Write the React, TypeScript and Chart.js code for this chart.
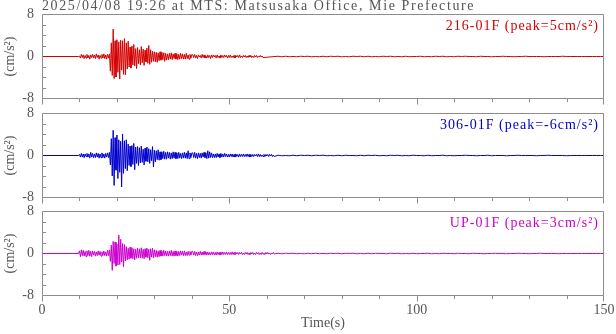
import React, { useEffect, useRef } from "react";
import { Chart, registerables } from "chart.js";

Chart.register(...registerables);

// ---------- text ----------
const TITLE = "2025/04/08 19:26 at MTS: Matsusaka Office, Mie Prefecture";
const CHANNELS = ["216-01F", "306-01F", "UP-01F"];
const PEAKS = ["5", "-6", "3"];
const Y_UNIT = "(cm/s²)";
const X_TITLE = "Time(s)";

// ---------- axes ----------
const X_MIN = 0;
const X_MAX = 150;
const X_LABEL_STEP = 50;
const X_MINOR_STEP = 10;
const Y_MIN = -8;
const Y_MAX = 8;
const Y_LABEL_STEP = 8;
const Y_MINOR = [-6, -4, -2, 2, 4, 6];

// ---------- sampling of the traces ----------
const ACTIVE_START = 10;
const ACTIVE_STEP = 0.25;
const CODA_START = 40.25;
const CODA_STEP = 0.25;
const TAIL_START = 63;
const TAIL_STEP = 1;

// 216-01F (red) : t = 10 .. 40 s every 0.25 s
const NS_ACTIVE = [
  0.1, -0.3, 0.4, -0.2, 0.3, -0.4, 0.2, -0.3,
  0.4, -0.3, 0.2, -0.5, 0.3, -0.2, 0.4, -0.3,
  0.3, -0.4, 0.5, -0.2, 0.3, -0.5, 0.2, -0.3,
  0.4, -0.3, 0.5, -0.4, 0.3, -0.5, 0.4, -0.3,
  0.5, -2.8, 2.6, -3.6, 5.2, -4.2, 3.0, -3.9,
  3.2, -3.0, 2.8, -4.3, 3.1, -2.6, 3.0, -3.4,
  3.4, -3.5, 2.6, -2.4, 2.9, -2.0, 1.8, -2.2,
  2.0, -1.6, 2.3, -1.8, 1.5, -2.3, 1.7, -1.4,
  1.3, -1.6, 1.9, -1.2, 1.4, -1.7, 1.2, -1.0,
  1.6, -1.3, 2.1, -1.5, 1.3, -1.1, 1.0, -0.9,
  0.9, -1.0, 0.8, -1.1, 0.7, -0.8, 0.9, -0.7,
  0.8, -0.6, 0.7, -0.9, 0.6, -0.7, 0.5, -0.6,
  0.6, -0.5, 0.7, -0.6, 0.5, -0.4, 0.6, -0.5,
  0.5, -0.6, 0.4, -0.5, 0.6, -0.4, 0.5, -0.5,
  0.4, -0.5, 0.6, -0.4, 0.3, -0.5, 0.4, -0.3,
  0.4,
];
// t = 40.25 .. 62 s every 0.25 s
const NS_CODA = [
  0.3, -0.2, 0.4, -0.3, 0.2, -0.4, 0.3, -0.1, 0.2, -0.3, 0.4, -0.2, 0.3, -0.3, 0.1, -0.3,
  0.3, -0.2, 0.2, -0.4, 0.3, -0.2, 0.3, -0.1, 0.2, -0.3, 0.3, -0.2, 0.1, -0.3, 0.3, -0.2,
  0.2, -0.2, 0.3, -0.1, 0.2, -0.3, 0.2, -0.2, 0.3, -0.2, 0.1, -0.2, 0.2, -0.3, 0.2, -0.1,
  0.2, -0.2, 0.3, -0.2, 0.1, -0.2, 0.2, -0.1, 0.2, -0.2, 0.1, -0.2, 0.2, -0.1, 0.2, -0.2,
  0.1, -0.2, 0.2, -0.1, 0.2, -0.2, 0.1, -0.1, 0.2, -0.1, 0.1, -0.2,
];
// t = 63 .. 150 s every 1 s
const NS_TAIL = [
  0.05, -0.05, 0.05, -0.05, 0, -0.05, 0.05, 0, 0.05, -0.05,
  0, -0.05, 0.05, -0.05, 0.05, 0, 0.05, -0.05, 0, -0.05,
  0.05, 0, 0.05, -0.05, 0.05, -0.05, 0, -0.05, 0.05, 0,
  0.05, -0.05, 0, -0.05, 0.05, -0.05, 0, 0, 0.05, -0.05,
  0, -0.05, 0.05, 0, 0.05, -0.05, 0, -0.05, 0.05, 0,
  0.05, 0, 0, -0.05, 0.05, 0, 0, -0.05, 0, 0,
  0.05, 0, 0, -0.05, 0, 0, 0.05, 0, 0, 0,
  0, -0.05, 0, 0, 0, 0, 0.05, 0, 0, 0,
  0, 0, 0, 0, 0, 0, 0, 0,
];

// 306-01F (blue)
const EW_ACTIVE = [
  0.2, -0.3, 0.4, -0.3, 0.3, -0.4, 0.3, -0.2,
  0.4, -0.3, 0.3, -0.5, 0.6, -0.3, 0.4, -0.4,
  0.3, -0.4, 0.5, -0.3, 0.4, -0.5, 0.3, -0.4,
  0.5, -0.4, 0.3, -0.5, 0.4, -0.3, 0.5, -0.4,
  0.6, -1.8, 3.2, -3.9, 4.8, -5.7, 3.4, -2.8,
  3.9, -4.4, 3.0, -3.2, 2.7, -6.0, 4.1, -3.4,
  2.8, -2.5, 3.0, -2.9, 2.2, -1.9, 1.8, -2.1,
  1.9, -1.7, 2.3, -2.7, 1.6, -1.5, 1.7, -1.9,
  1.5, -1.4, 1.8, -1.3, 1.2, -1.8, 1.4, -1.1,
  1.6, -1.2, 1.3, -1.5, 1.1, -1.0, 1.7, -2.2,
  1.0, -1.2, 0.9, -0.8, 1.1, -0.9, 0.7, -0.8,
  0.7, -0.6, 0.8, -0.7, 0.6, -0.7, 0.7, -0.5,
  0.6, -0.7, 0.5, -0.6, 0.7, -0.5, 0.6, -0.6,
  0.5, -0.6, 0.6, -0.5, 0.4, -0.6, 0.5, -0.5,
  0.6, -0.5, 0.5, -0.6, 0.9, -0.6, 0.5, -0.4,
  0.5,
];
const EW_CODA = [
  0.5, -0.4, 0.6, -0.5, 0.4, -0.6, 0.5, -0.4,
  0.4, -0.5, 0.5, -0.3, 0.6, -0.4, 0.5, -0.6,
  0.9, -0.5, 0.7, -0.4, 0.5, -0.4, 0.3, -0.4,
  0.3, -0.4, 0.4, -0.3, 0.3, -0.4, 0.4, -0.3,
  0.3, -0.3, 0.4, -0.2, 0.3, -0.3, 0.2, -0.3,
  0.3, -0.2, 0.3, -0.3, 0.2, -0.3, 0.3, -0.2,
  0.2, -0.3, 0.3, -0.2, 0.2, -0.2, 0.3, -0.2,
  0.2, -0.2, 0.3, -0.2, 0.2, -0.3, 0.2, -0.2,
  0.2, -0.2, 0.2, -0.1, 0.2, -0.2, 0.3, -0.2,
  0.2, -0.2, 0.1, -0.2, 0.2, -0.2, 0.2, -0.1,
  0.2, -0.2, 0.2, -0.1, 0.2, -0.2, 0.1, -0.2,
];
const EW_TAIL = [
  0.05, -0.05, 0, -0.05, 0.05, -0.05, 0.05, 0, 0.05, -0.05,
  0.05, 0, 0.05, -0.05, 0, -0.05, 0.05, -0.05, 0.05, 0,
  0, -0.05, 0.05, -0.05, 0.05, 0, 0.05, -0.05, 0, -0.05,
  0.05, 0, 0.05, -0.05, 0, -0.05, 0.05, 0, 0, -0.05,
  0.05, -0.05, 0, 0, 0.05, -0.05, 0, -0.05, 0, 0,
  0.05, 0, 0, -0.05, 0, 0, 0.05, -0.05, 0, 0,
  0, -0.05, 0, 0, 0.05, 0, 0, 0, 0, -0.05,
  0, 0, 0.05, 0, 0, 0, 0, -0.05, 0, 0,
  0, 0, 0, 0, 0, 0, 0, 0,
];

// UP-01F (magenta)
const UD_ACTIVE = [
  0.5, -0.6, 0.7, -0.4, 0.6, -0.5, 0.4, -0.6,
  0.5, -0.4, 0.6, -0.5, 0.4, -0.6, 0.5, -0.3,
  0.4, -0.5, 0.3, -0.4, 0.5, -0.3, 0.4, -0.5,
  0.3, -0.4, 0.5, -0.4, 0.3, -0.5, 0.6, -0.4,
  0.7, -1.5, 1.6, -3.2, 2.3, -1.9, 2.2, -2.4,
  1.8, -2.2, 3.5, -2.1, 2.7, -1.6, 1.9, -2.5,
  1.7, -1.4, 1.3, -1.2, 1.0, -1.1, 1.2, -0.9,
  1.1, -1.0, 0.9, -1.2, 0.8, -0.9, 1.0, -0.8,
  0.9, -0.8, 1.1, -0.9, 0.8, -1.0, 0.9, -0.7,
  1.0, -0.8, 0.8, -1.3, 0.9, -0.7, 1.0, -0.8,
  0.7, -0.6, 0.6, -0.7, 0.5, -0.6, 0.6, -0.5,
  0.5, -0.5, 0.6, -0.4, 0.5, -0.5, 0.4, -0.5,
  0.5, -0.4, 0.6, -0.5, 0.4, -0.5, 0.5, -0.4,
  0.4, -0.5, 0.4, -0.4, 0.5, -0.3, 0.4, -0.4,
  0.5, -0.4, 0.3, -0.4, 0.4, -0.3, 0.4, -0.3,
  0.4,
];
const UD_CODA = [
  0.4, -0.3, 0.4, -0.4, 0.3, -0.4, 0.3, -0.3,
  0.4, -0.3, 0.3, -0.3, 0.4, -0.2, 0.3, -0.3,
  0.3, -0.3, 0.2, -0.3, 0.3, -0.2, 0.3, -0.3,
  0.2, -0.3, 0.3, -0.2, 0.2, -0.3, 0.3, -0.2,
  0.3, -0.2, 0.2, -0.2, 0.3, -0.2, 0.2, -0.2,
  0.2, -0.2, 0.3, -0.2, 0.2, -0.2, 0.2, -0.1,
  0.2, -0.2, 0.2, -0.1, 0.2, -0.2, 0.1, -0.2,
  0.2, -0.1, 0.2, -0.2, 0.1, -0.2, 0.2, -0.1,
  0.2, -0.2, 0.1, -0.2, 0.2, -0.1, 0.2, -0.2,
  0.1, -0.2, 0.2, -0.1, 0.1, -0.2, 0.2, -0.1,
  0.2, -0.1, 0.1, -0.2, 0.1, -0.1, 0.2, -0.1,
];
const UD_TAIL = [
  0.05, -0.05, 0.05, 0, 0.05, -0.05, 0, -0.05, 0.05, -0.05,
  0.05, -0.05, 0, -0.05, 0.05, 0, 0.05, -0.05, 0.05, 0,
  0.05, -0.05, 0, -0.05, 0.05, -0.05, 0.05, 0, 0, -0.05,
  0.05, 0, 0.05, -0.05, 0, -0.05, 0.05, -0.05, 0, 0,
  0.05, -0.05, 0, -0.05, 0.05, 0, 0, -0.05, 0.05, 0,
  0, -0.05, 0.05, 0, 0, -0.05, 0, 0, 0.05, 0,
  0, -0.05, 0, 0, 0.05, 0, 0, -0.05, 0, 0,
  0.05, 0, 0, 0, 0, -0.05, 0, 0, 0, 0,
  0, 0, 0, 0, 0, 0, 0, 0,
];

const SERIES = [
  [NS_ACTIVE, NS_CODA, NS_TAIL],
  [EW_ACTIVE, EW_CODA, EW_TAIL],
  [UD_ACTIVE, UD_CODA, UD_TAIL],
];

// ---------- styles / layout ----------
const COLORS = ["#d40000", "#0000cc", "#cc00cc"];
const TEXT_COLOR = "#555555";
const FRAME_COLOR = "#8c8c8c";
const FONT_FAMILY = "'Liberation Serif', 'Times New Roman', serif";
const FONT_SIZE = 14;
const W = 616;
const PANEL_TOPS = [14.5, 113.5, 211.5];
const PANEL_H = 84;
const PAD_TOP = [14.5, 10.5, 10.5];
const AXIS_H = [9.5, 9.5, 38.5];
const Y_AXIS_W = 42;
const RIGHT_PAD = 12;

function buildPoints(active: number[], coda: number[], tail: number[]) {
  const pts: { x: number; y: number }[] = [{ x: X_MIN, y: 0 }, { x: ACTIVE_START - ACTIVE_STEP, y: 0 }];
  active.forEach((v, i) => pts.push({ x: ACTIVE_START + i * ACTIVE_STEP, y: v }));
  coda.forEach((v, i) => pts.push({ x: CODA_START + i * CODA_STEP, y: v }));
  tail.forEach((v, i) => pts.push({ x: TAIL_START + i * TAIL_STEP, y: v }));
  return pts;
}

function decoPlugin(index: number) {
  return {
    id: "deco" + index,
    afterDraw(chart: any) {
      const ctx = chart.ctx as CanvasRenderingContext2D;
      const { left, right, top, bottom } = chart.chartArea;
      const xs = chart.scales.x;
      const ys = chart.scales.y;
      const L = Math.floor(left) + 0.5;
      const R = Math.round(right) - 0.5;
      const T = Math.floor(top) + 0.5;
      const B = Math.floor(bottom) + 0.5;
      ctx.save();
      ctx.strokeStyle = FRAME_COLOR;
      ctx.lineWidth = 1;
      ctx.beginPath();
      ctx.moveTo(L, T);
      ctx.lineTo(R, T);
      ctx.lineTo(R, B);
      ctx.lineTo(L, B);
      ctx.closePath();
      ctx.stroke();
      // x ticks (outward, below the panel)
      ctx.beginPath();
      for (let v = X_MIN; v <= X_MAX; v += X_MINOR_STEP) {
        let px = Math.round(xs.getPixelForValue(v)) + 0.5;
        px = Math.min(Math.max(px, L), R);
        const len = v % X_LABEL_STEP === 0 ? 6 : 3.5;
        ctx.moveTo(px, B);
        ctx.lineTo(px, B + len);
      }
      // y minor ticks (inward)
      Y_MINOR.forEach((v) => {
        const py = Math.floor(ys.getPixelForValue(v)) + 0.5;
        ctx.moveTo(L, py);
        ctx.lineTo(L + 3.5, py);
      });
      ctx.stroke();
      // channel label
      ctx.font = `${FONT_SIZE}px ${FONT_FAMILY}`;
      (ctx as any).letterSpacing = "1px";
      ctx.fillStyle = COLORS[index];
      ctx.textAlign = "right";
      ctx.textBaseline = "alphabetic";
      ctx.fillText(`${CHANNELS[index]} (peak=${PEAKS[index]}cm/s²)`, right - 5, Math.round(top + 15));
      if (index === 0) {
        ctx.fillStyle = TEXT_COLOR;
        ctx.textAlign = "left";
        (ctx as any).letterSpacing = "1.6px";
        ctx.fillText(TITLE, left, 10);
      }
      ctx.restore();
    },
  };
}

function Panel({ index }: { index: number }) {
  const ref = useRef<HTMLCanvasElement | null>(null);
  const h = PAD_TOP[index] + PANEL_H + AXIS_H[index];
  const isLast = index === SERIES.length - 1;
  useEffect(() => {
    if (!ref.current) return;
    const [a, c, t] = SERIES[index];
    const chart = new Chart(ref.current, {
      type: "line",
      data: {
        datasets: [
          {
            data: buildPoints(a, c, t),
            borderColor: COLORS[index],
            borderWidth: 1,
            pointRadius: 0,
            tension: 0,
            fill: false,
          },
        ],
      },
      options: {
        animation: false,
        responsive: false,
        maintainAspectRatio: false,
        events: [],
        layout: { padding: { left: 0, right: RIGHT_PAD, top: PAD_TOP[index], bottom: 0 } },
        plugins: { legend: { display: false }, tooltip: { enabled: false }, title: { display: false } },
        scales: {
          x: {
            type: "linear",
            min: X_MIN,
            max: X_MAX,
            grid: { display: false, drawTicks: false },
            border: { display: false },
            ticks: {
              display: isLast,
              stepSize: X_LABEL_STEP,
              padding: 6,
              color: TEXT_COLOR,
              font: { family: FONT_FAMILY, size: FONT_SIZE },
              maxRotation: 0,
            },
            title: {
              display: isLast,
              text: X_TITLE,
              color: TEXT_COLOR,
              font: { family: FONT_FAMILY, size: FONT_SIZE },
              padding: { top: 0, bottom: 2 },
            },
            afterFit: (s: any) => {
              s.height = AXIS_H[index];
              s.paddingLeft = 0;
              s.paddingRight = 0;
            },
          },
          y: {
            type: "linear",
            min: Y_MIN,
            max: Y_MAX,
            grid: { display: false, drawTicks: false },
            border: { display: false },
            ticks: {
              stepSize: Y_LABEL_STEP,
              padding: 8,
              color: TEXT_COLOR,
              font: { family: FONT_FAMILY, size: FONT_SIZE },
            },
            title: {
              display: true,
              text: Y_UNIT,
              color: TEXT_COLOR,
              font: { family: FONT_FAMILY, size: FONT_SIZE },
              padding: { top: 2, bottom: 0 },
            },
            afterFit: (s: any) => {
              s.width = Y_AXIS_W;
              s.paddingTop = 0;
              s.paddingBottom = 0;
            },
          },
        },
      },
      plugins: [decoPlugin(index)],
    } as any);
    return () => chart.destroy();
  }, [index]);
  return (
    <canvas
      ref={ref}
      width={W}
      height={h}
      style={{ position: "absolute", left: 0, top: PANEL_TOPS[index] - PAD_TOP[index], width: W, height: h }}
    />
  );
}

export default function App() {
  return (
    <div style={{ position: "fixed", left: 0, top: 0, width: W, height: 334, background: "#ffffff" }}>
      {SERIES.map((_, i) => (
        <Panel key={i} index={i} />
      ))}
    </div>
  );
}
